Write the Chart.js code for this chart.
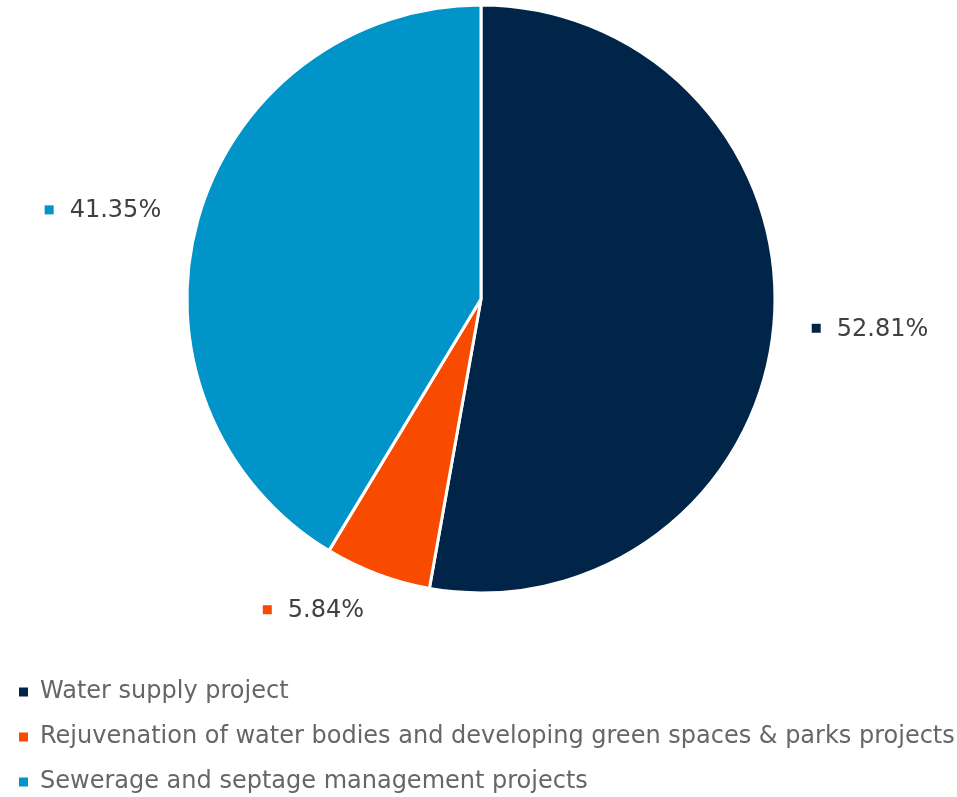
<!DOCTYPE html>
<html>
<head>
<meta charset="utf-8">
<script src="https://cdn.jsdelivr.net/npm/chart.js@4"></script>
<style>
  html, body { margin: 0; padding: 0; background: #fff; overflow: hidden; }
  #wrap { position: absolute; left: -2px; top: -61px; width: 966px; height: 865px; }
</style>
</head>
<body>
<div id="wrap"><canvas id="myChart"></canvas></div>
<script>
const categories = [
    'Water supply project',
    'Rejuvenation of water bodies and developing green spaces & parks projects',
    'Sewerage and septage management projects'
];
const shares = [52.81, 5.84, 41.35];
const sliceColors = ['#002548', '#F94B00', '#0194C8'];

Chart.defaults.font.family = '"DejaVu Sans", Verdana, sans-serif';

// percentage labels outside each slice, with a small coloured square
const outsideLabels = {
    id: 'outsideLabels',
    afterDraw(chart) {
        const ctx = chart.ctx;
        const meta = chart.getDatasetMeta(0);
        ctx.save();
        ctx.font = '24px "DejaVu Sans", Verdana, sans-serif';
        ctx.textBaseline = 'middle';
        meta.data.forEach((arc, i) => {
            const p = arc.getProps(['x', 'y', 'startAngle', 'endAngle', 'outerRadius'], true);
            const mid = (p.startAngle + p.endAngle) / 2;
            const r = p.outerRadius + 38;
            const ax = p.x + Math.cos(mid) * r;
            const ay = p.y + Math.sin(mid) * r;
            const text = shares[i].toFixed(2) + '%';
            const tw = ctx.measureText(text).width;
            const groupW = 9 + 16 + tw;
            const left = Math.cos(mid) >= 0 ? ax : ax - groupW;
            ctx.fillStyle = sliceColors[i];
            ctx.fillRect(left, ay - 4.5, 9, 9);
            ctx.fillStyle = '#404040';
            ctx.textAlign = 'left';
            ctx.fillText(text, left + 25, ay + 1);
        });
        ctx.restore();
    }
};

const baseLabels = Chart.overrides.pie.plugins.legend.labels.generateLabels;

let ctx = document.getElementById('myChart').getContext('2d');
let chart = new Chart(ctx, {
    type: 'pie',
    data: {
        labels: categories,
        datasets: [{
            data: shares,
            backgroundColor: sliceColors,
            borderColor: '#ffffff',
            borderWidth: 3
        }]
    },
    options: {
        responsive: true,
        maintainAspectRatio: false,
        animation: false,
        radius: 294,
        layout: { padding: 0 },
        plugins: {
            legend: {
                position: 'bottom',
                align: 'start',
                labels: {
                    boxWidth: 9,
                    boxHeight: 9,
                    padding: 21,
                    color: '#666666',
                    font: { size: 24 },
                    generateLabels(c) {
                        return baseLabels(c).map(item => Object.assign(item, { lineWidth: 0 }));
                    }
                }
            },
            tooltip: { enabled: false }
        }
    },
    plugins: [outsideLabels]
});
</script>
</body>
</html>
